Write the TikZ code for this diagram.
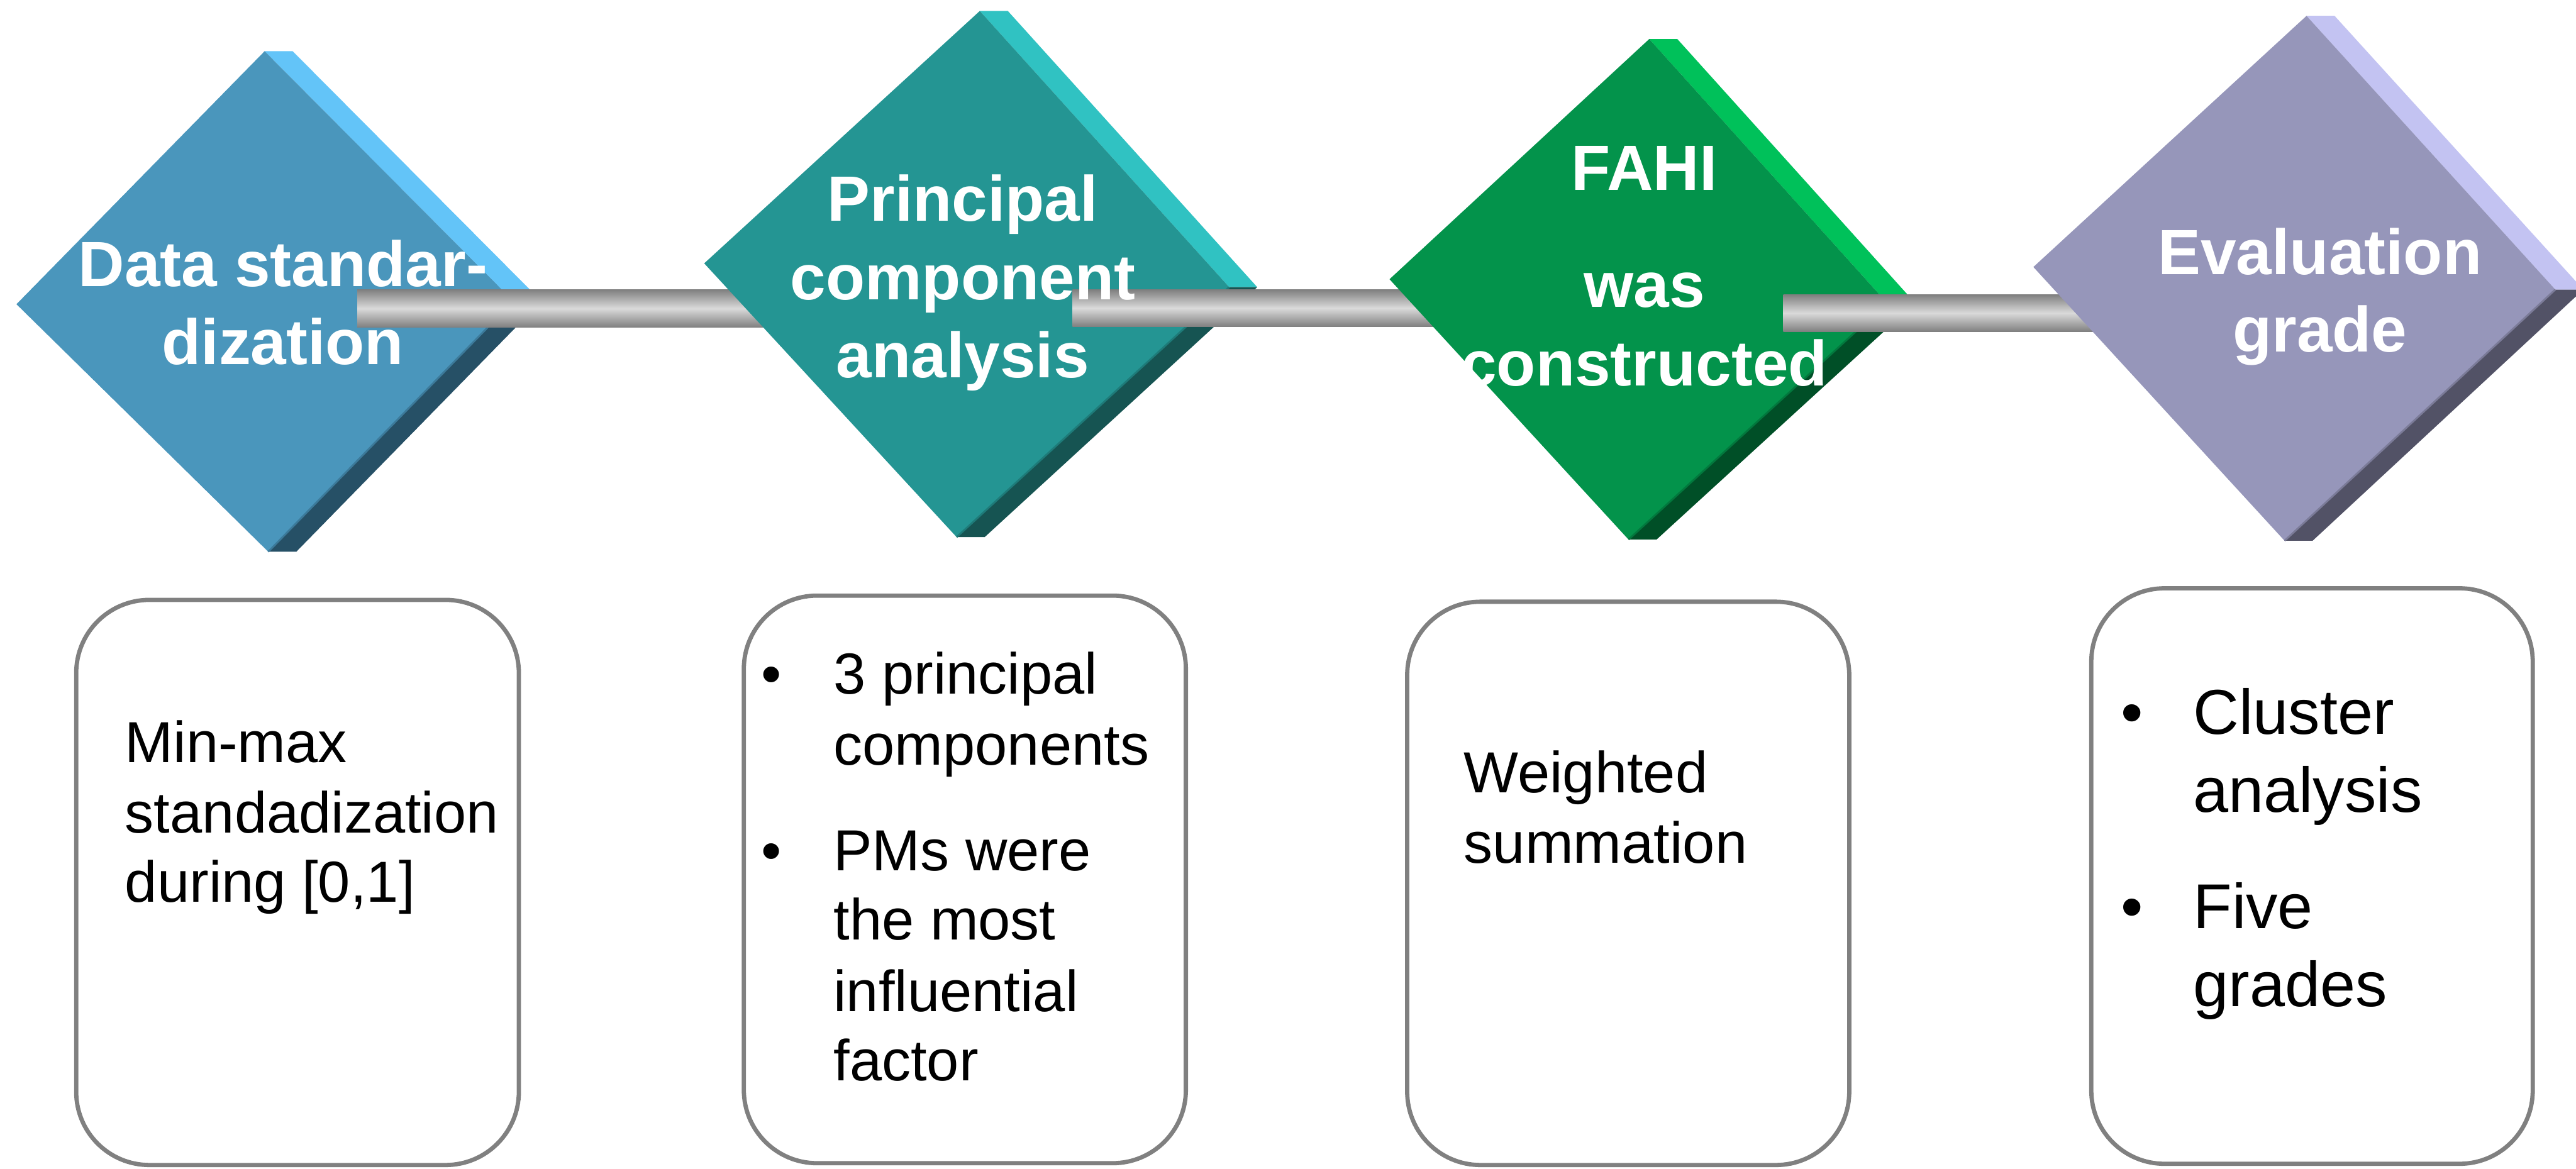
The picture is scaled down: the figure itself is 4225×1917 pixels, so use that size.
\documentclass[tikz,border=0pt]{standalone}
\usepackage{fontspec}
\setmainfont{Liberation Sans}
\definecolor{faceA}{HTML}{4A96BC}
\definecolor{lightA}{HTML}{63C4F8}
\definecolor{darkA}{HTML}{265066}
\definecolor{faceB}{HTML}{249593}
\definecolor{lightB}{HTML}{30C2C2}
\definecolor{darkB}{HTML}{165452}
\definecolor{faceC}{HTML}{03934B}
\definecolor{lightC}{HTML}{00C15A}
\definecolor{darkC}{HTML}{004F27}
\definecolor{faceD}{HTML}{9696BA}
\definecolor{lightD}{HTML}{C3C3F2}
\definecolor{darkD}{HTML}{525266}
\definecolor{barDark}{HTML}{7F7F7F}
\definecolor{barLight}{HTML}{DADADA}
\definecolor{cardGray}{HTML}{808080}
\newcommand\drawslab[4]{%
  \fill[#3] (#1T) -- ([xshift=46pt]#1T) -- ([xshift=46pt]#1R) -- (#1R) -- cycle;
  \fill[#4] (#1R) -- ([xshift=46pt]#1R) -- ([xshift=46pt]#1B) -- (#1B) -- cycle;
  \fill[#2] (#1L) -- (#1T) -- (#1R) -- (#1B) -- cycle;
  \draw[#2!60!#4, line width=3pt] (#1R) -- (#1B);
}
\begin{document}
\begin{tikzpicture}[x=1pt,y=-1pt,
  bar/.style={top color=barDark, bottom color=barDark, middle color=barLight},
  dtext/.style={text=white, font=\fontsize{105}{128}\selectfont\bfseries, inner sep=0pt, anchor=base},
  btext/.style={text=black, font=\fontsize{95}{115}\selectfont, inner sep=0pt, anchor=base west},
  bigtext/.style={text=black, font=\fontsize{104}{128}\selectfont, inner sep=0pt, anchor=base west},
  bul/.style={text=black, inner sep=0pt, anchor=base},
  card/.style={rectangle, draw=cardGray, line width=7pt, rounded corners=120pt, fill=white, inner sep=0pt}]
\useasboundingbox (0,0) rectangle (4225,1917);
\clip (0,0) rectangle (4225,1917);
% diamond vertices
\coordinate (aL) at (27,499);   \coordinate (aT) at (434,84);
\coordinate (aR) at (842,494);  \coordinate (aB) at (440,905);
\coordinate (bL) at (1155,432); \coordinate (bT) at (1607,18);
\coordinate (bR) at (2016,471); \coordinate (bB) at (1569,881);
\coordinate (cL) at (2279,458); \coordinate (cT) at (2705,64);
\coordinate (cR) at (3095,497); \coordinate (cB) at (2671,885);
\coordinate (dL) at (3335,438); \coordinate (dT) at (3783,26);
\coordinate (dR) at (4191,475); \coordinate (dB) at (3747,887);
% bar ends
\coordinate (b1s) at (586,475);  \coordinate (b1e) at (1500,537);
\coordinate (b2s) at (1759,475); \coordinate (b2e) at (2600,536);
\coordinate (b3s) at (2925,483); \coordinate (b3e) at (3700,544);
\drawslab{a}{faceA}{lightA}{darkA}
\shade[bar] (b1s) rectangle (b1e);
\drawslab{b}{faceB}{lightB}{darkB}
\shade[bar] (b2s) rectangle (b2e);
\drawslab{c}{faceC}{lightC}{darkC}
\shade[bar] (b3s) rectangle (b3e);
\drawslab{d}{faceD}{lightD}{darkD}
% diamond texts
\node[dtext] (t1a) at (464,470) {Data standar-};
\node[dtext] (t1b) at (464,598) {dization};
\node[dtext] (t2a) at (1579,363) {Principal};
\node[dtext] (t2b) at (1579,491) {component};
\node[dtext] (t2c) at (1579,619) {analysis};
\node[dtext] (t3a) at (2697,312) {FAHI};
\node[dtext] (t3b) at (2697,504) {was};
\node[dtext] (t3c) at (2697,633) {constructed};
\node[dtext] (t4a) at (3805,450) {Evaluation};
\node[dtext] (t4b) at (3805,577) {grade};
% cards
\node[card, minimum width=726pt, minimum height=927pt] (k1) at (488,1447.5) {};
\node[card, minimum width=725pt, minimum height=931pt] (k2) at (1582.5,1442.5) {};
\node[card, minimum width=725pt, minimum height=924pt] (k3) at (2670.5,1449) {};
\node[card, minimum width=724pt, minimum height=944pt] (k4) at (3792,1437) {};
% card 1
\node[btext] (k1a) at (205,1251) {Min-max};
\node[btext] (k1b) at (205,1366) {standadization};
\node[btext] (k1c) at (205,1480) {during [0,1]};
% card 2
\node[bul, font=\fontsize{95}{115}\selectfont] (k2u1) at (1265,1138) {•};
\node[bul, font=\fontsize{95}{115}\selectfont] (k2u2) at (1265,1428) {•};
\node[btext] (k2a) at (1367,1138) {3 principal};
\node[btext] (k2b) at (1367,1255) {components};
\node[btext] (k2c) at (1367,1428) {PMs were};
\node[btext] (k2d) at (1367,1542) {the most};
\node[btext] (k2e) at (1367,1659) {influential};
\node[btext] (k2f) at (1367,1773) {factor};
% card 3
\node[btext] (k3a) at (2401,1300) {Weighted};
\node[btext] (k3b) at (2401,1416) {summation};
% card 4
\node[bul, font=\fontsize{104}{128}\selectfont] (k4u1) at (3497,1204) {•};
\node[bul, font=\fontsize{104}{128}\selectfont] (k4u2) at (3497,1523) {•};
\node[bigtext] (k4a) at (3597,1204) {Cluster};
\node[bigtext] (k4b) at (3597,1332) {analysis};
\node[bigtext] (k4c) at (3597,1523) {Five};
\node[bigtext] (k4d) at (3597,1651) {grades};
\end{tikzpicture}
\end{document}
